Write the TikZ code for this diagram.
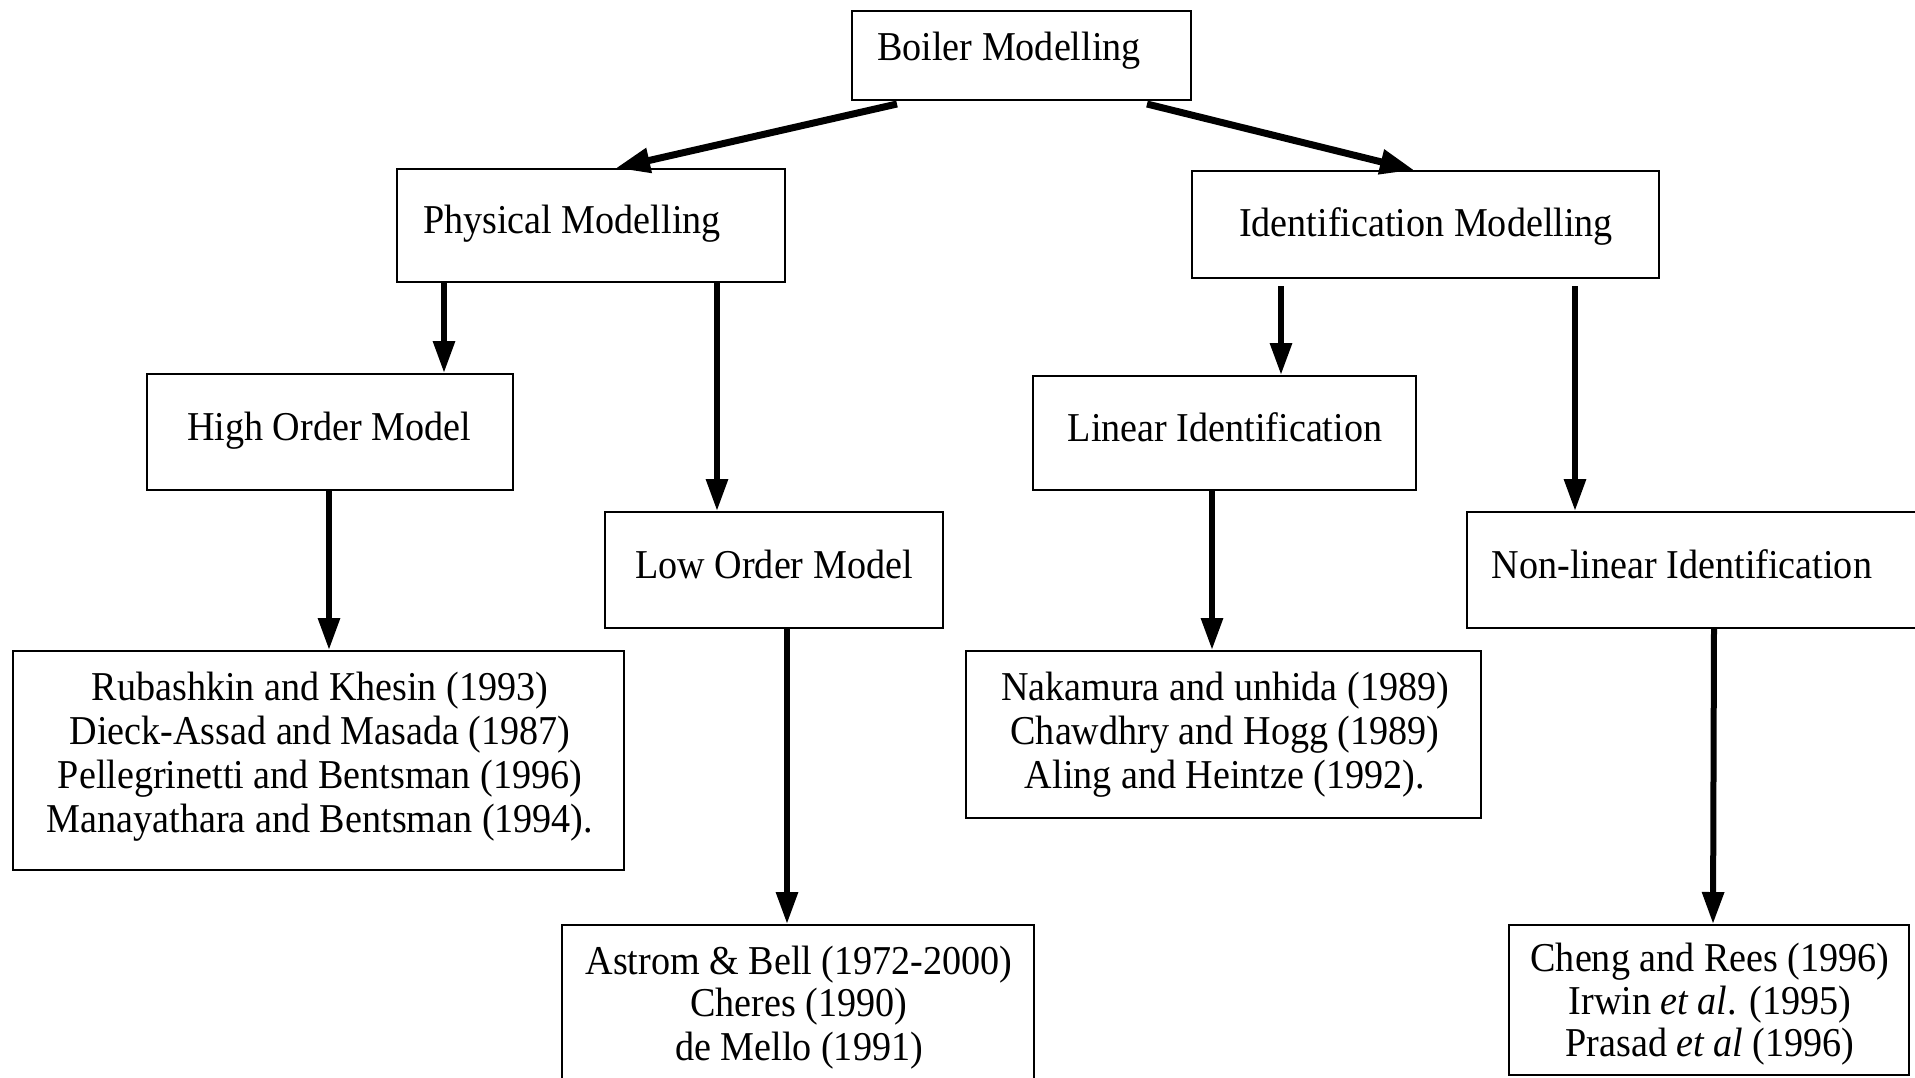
\documentclass[tikz,border=0pt]{standalone}
\usepackage{fontspec}
\setmainfont{Liberation Serif}[FakeStretch=0.93]
\usetikzlibrary{arrows.meta}
\begin{document}
\begin{tikzpicture}[x=1pt,y=-1pt,
  box/.style={draw=black,line width=2pt,rectangle,inner sep=0pt},
  txt/.style={anchor=base,inner sep=0pt,font=\fontsize{41}{44}\selectfont},
  toparrow/.style={line width=7pt,-{Triangle[length=34pt,width=24pt]}},
  vertarrow/.style={line width=6pt,-{Triangle[length=32pt,width=21pt]}}]
\useasboundingbox (0,0) rectangle (1915,1077);
\clip (0,0) rectangle (1915,1077);
% boxes
\node[box,minimum width=339pt,minimum height=89pt] (boiler) at (1021.5,55.5) {};
\node[box,minimum width=388pt,minimum height=113pt] (phys) at (591,225.5) {};
\node[box,minimum width=467pt,minimum height=107pt] (ident) at (1425.5,224.5) {};
\node[box,minimum width=366pt,minimum height=116pt] (high) at (330,432) {};
\node[box,minimum width=338pt,minimum height=116pt] (low) at (774,570) {};
\node[box,minimum width=383pt,minimum height=114pt] (linear) at (1224.5,433) {};
\node[box,minimum width=463pt,minimum height=116pt] (nonlin) at (1698.5,570) {};
\node[box,minimum width=611pt,minimum height=219pt] (rub) at (318.5,760.5) {};
\node[box,minimum width=515pt,minimum height=167pt] (nak) at (1223.5,734.5) {};
\node[box,minimum width=472pt,minimum height=175pt] (ast) at (798,1012.5) {};
\node[box,minimum width=400pt,minimum height=150pt] (cheng) at (1709,1000) {};
% texts
\node[txt] (tboiler) at (1009,60) {Boiler Modelling};
\node[txt] (tphys) at (572,233) {Physical Modelling};
\node[txt] (tident) at (1426,236) {Identification Modelling};
\node[txt] (thigh) at (329,440) {High Order Model};
\node[txt] (tlinear) at (1225,441) {Linear Identification};
\node[txt] (tlow) at (774,578) {Low Order Model};
\node[txt] (tnonlin) at (1682,578) {Non-linear Identification};
\node[txt] (trub1) at (320,700) {Rubashkin and Khesin (1993)};
\node[txt] (trub2) at (320,744) {Dieck-Assad and Masada (1987)};
\node[txt] (trub3) at (320,788) {Pellegrinetti and Bentsman (1996)};
\node[txt] (trub4) at (320,832) {Manayathara and Bentsman (1994).};
\node[txt] (tnak1) at (1225,700) {Nakamura and unhida (1989)};
\node[txt] (tnak2) at (1225,744) {Chawdhry and Hogg (1989)};
\node[txt] (tnak3) at (1225,788) {Aling and Heintze (1992).};
\node[txt] (tast1) at (799,974) {Astrom \& Bell (1972-2000)};
\node[txt] (tast2) at (799,1016) {Cheres (1990)};
\node[txt] (tast3) at (799,1060) {de Mello (1991)};
\node[txt] (tcheng1) at (1710,971) {Cheng and Rees (1996)};
\node[txt] (tcheng2) at (1710,1014) {Irwin \textit{et al}. (1995)};
\node[txt] (tcheng3) at (1710,1056) {Prasad \textit{et al} (1996)};
% connectors
\draw[toparrow] ([xshift=46pt,yshift=-3pt]boiler.south west) -- ([xshift=220pt]phys.north west);
\draw[toparrow] ([xshift=296pt,yshift=-3pt]boiler.south west) -- ([xshift=223pt]ident.north west);
\draw[vertarrow] ([xshift=48pt]phys.south west) -- ([xshift=298pt]high.north west);
\draw[vertarrow] ([xshift=321pt]phys.south west) -- ([xshift=113pt]low.north west);
\draw[vertarrow] ([xshift=90pt,yshift=-7pt]ident.south west) -- ([xshift=249pt]linear.north west);
\draw[vertarrow] ([xshift=384pt,yshift=-7pt]ident.south west) -- ([xshift=109pt]nonlin.north west);
\draw[vertarrow] ([xshift=183pt]high.south west) -- ([xshift=317pt]rub.north west);
\draw[vertarrow] ([xshift=183pt]low.south west) -- ([xshift=226pt]ast.north west);
\draw[vertarrow] ([xshift=180pt]linear.south west) -- ([xshift=247pt]nak.north west);
\draw[vertarrow] ([xshift=248pt]nonlin.south west) -- ([xshift=205pt]cheng.north west);
\end{tikzpicture}
\end{document}
